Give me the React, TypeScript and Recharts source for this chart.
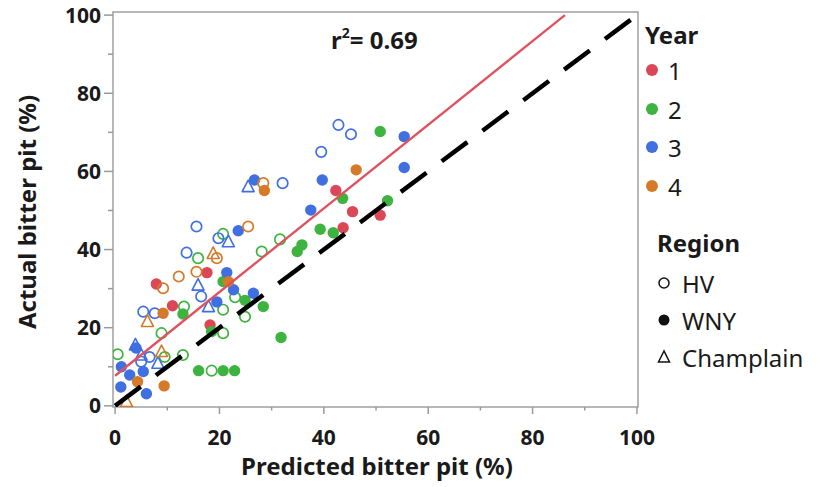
import React from 'react';
import { ScatterChart, Scatter, XAxis, YAxis, ReferenceArea } from 'recharts';

// ---- data (predicted %, actual %) ----
const year1WNY = [[7.9, 31.2], [11, 25.6], [17.6, 34.1], [18.2, 20.7], [42.3, 55.1], [43.7, 45.6], [45.5, 49.7], [50.8, 48.8]];

const year2HV = [[0.5, 13.2], [8.9, 18.6], [9.5, 12.5], [13, 13], [13.2, 25.4], [15.9, 37.8], [20.7, 44], [20.7, 24.6], [23, 27.8], [24.9, 22.8], [20.7, 18.6], [18.5, 9], [28.1, 39.5], [31.6, 42.6]];
const year2WNY = [[13, 23.5], [16, 9], [18.5, 19], [20.7, 31.8], [20.7, 9], [22.9, 9], [24.9, 27], [28.4, 25.4], [31.8, 17.5], [34.9, 39.5], [35.8, 41.2], [39.3, 45.2], [41.8, 44.3], [43.6, 53.1], [50.8, 70.2], [52.2, 52.5]];

const year3HV = [[15.6, 45.9], [13.7, 39.2], [19.8, 42.9], [16.5, 28], [5.4, 24.1], [7.6, 23.7], [6.6, 12.5], [5, 11.3], [32.1, 57], [39.5, 65], [42.8, 71.9], [45.2, 69.5]];
const year3WNY = [[23.6, 44.8], [21.4, 34.1], [22.7, 29.7], [26.5, 28.8], [19.5, 26.6], [4, 14.8], [1.2, 10], [2.8, 7.9], [5.4, 8.8], [1.1, 4.8], [6, 3.1], [26.7, 57.8], [37.5, 50.1], [39.7, 57.8], [55.4, 68.9], [55.4, 61]];
const year3Champlain = [[21.7, 42], [15.9, 30.9], [17.9, 25.4], [5, 13], [8.2, 10.9], [25.5, 56.1], [3.9, 15.6]];

const year4HV = [[25.5, 45.9], [15.6, 34.3], [12.2, 33.1], [9.2, 30.1], [19.5, 37.8], [28.4, 57]];
const year4WNY = [[9.2, 23.7], [21.7, 31.8], [4.3, 6.2], [9.4, 5.1], [28.6, 55.1], [46.2, 60.4]];
const year4Champlain = [[18.8, 39], [6.2, 21.6], [8.9, 13.9], [2.2, 1.1]];

const regressionLine = [[0, 7.7], [86.2, 100]];
const identityLine = [[0, 0], [100, 100]];

const xTicks = [0, 10, 20, 30, 40, 50, 60, 70, 80, 90, 100];
const yTicks = [0, 10, 20, 30, 40, 50, 60, 70, 80, 90, 100];

const yearLabels = ['1', '2', '3', '4'];
const regionLabels = ['HV', 'WNY', 'Champlain'];

const COLORS = ['#DC4757', '#3DB43F', '#3F6FE0', '#D57A28'];
const FONT = '"Noto Sans", "Open Sans", sans-serif';

const toPts = (arr: number[][]) => arr.map(([x, y]) => ({ x, y }));

const circleShape = (color: string, filled: boolean) => (props: any) => (
  <circle
    cx={props.cx}
    cy={props.cy}
    r={filled ? 5.7 : 5.2}
    fill={filled ? color : 'none'}
    stroke={color}
    strokeWidth={filled ? 0 : 1.7}
  />
);

const triShape = (color: string) => (props: any) => {
  const { cx, cy } = props;
  return (
    <polygon
      points={`${cx},${cy - 6.5} ${cx - 6},${cy + 5} ${cx + 6},${cy + 5}`}
      fill="none"
      stroke={color}
      strokeWidth={1.6}
      strokeLinejoin="round"
    />
  );
};

const noShape = () => <g />;

const XTick = (props: any) => {
  const { x, y, payload } = props;
  const v = payload.value;
  const major = v % 20 === 0;
  return (
    <g>
      <line x1={x} x2={x} y1={y} y2={y + (major ? 7 : 3.5)} stroke="#9a9a9a" strokeWidth={1.5} />
      {major && (
        <text x={x} y={y + 38} textAnchor="middle" fontFamily={FONT} fontWeight={700} fontSize={21} fill="#1a1a1a">
          {v}
        </text>
      )}
    </g>
  );
};

const YTick = (props: any) => {
  const { x, y, payload } = props;
  const v = payload.value;
  const major = v % 20 === 0;
  return (
    <g>
      <line x1={x} x2={x - (major ? 9 : 5)} y1={y} y2={y} stroke="#9a9a9a" strokeWidth={1.5} />
      {major && (
        <text x={x - 12} y={y + 7.5} textAnchor="end" fontFamily={FONT} fontWeight={700} fontSize={21} fill="#1a1a1a">
          {v}
        </text>
      )}
    </g>
  );
};

const txt = (left: number, centerY: number, extra: React.CSSProperties = {}): React.CSSProperties => ({
  position: 'absolute',
  left,
  top: centerY,
  transform: 'translateY(-50%)',
  fontFamily: FONT,
  color: '#1a1a1a',
  whiteSpace: 'nowrap',
  lineHeight: 1,
  ...extra,
});

export default function App() {
  const yearSeries = [
    { wny: year1WNY },
    { hv: year2HV, wny: year2WNY },
    { hv: year3HV, wny: year3WNY, ch: year3Champlain },
    { hv: year4HV, wny: year4WNY, ch: year4Champlain },
  ] as { hv?: number[][]; wny?: number[][]; ch?: number[][] }[];

  return (
    <div style={{ position: 'relative', width: 819, height: 487, margin: '-8px 0 0 -8px' }}>
      <ScatterChart width={819} height={487} margin={{ top: 12, right: 181, bottom: 0, left: 0 }}>
        <XAxis
          type="number"
          dataKey="x"
          domain={[-0.4, 100.2]}
          ticks={xTicks}
          interval={0}
          height={80}
          axisLine={false}
          tickLine={false}
          tickSize={0}
          tickMargin={0}
          tick={<XTick />}
          allowDataOverflow
        />
        <YAxis
          type="number"
          dataKey="y"
          domain={[-0.3, 100.8]}
          ticks={yTicks}
          interval={0}
          width={113}
          axisLine={false}
          tickLine={false}
          tickSize={0}
          tickMargin={0}
          tick={<YTick />}
          allowDataOverflow
        />
        <ReferenceArea x1={-0.4} x2={100.2} y1={-0.3} y2={100.8} fill="none" stroke="#a0a0a0" strokeWidth={1.5} ifOverflow="visible" />
        {yearSeries.map((s, i) => (
          <React.Fragment key={i}>
            {s.hv && <Scatter data={toPts(s.hv)} shape={circleShape(COLORS[i], false)} isAnimationActive={false} />}
            {s.wny && <Scatter data={toPts(s.wny)} shape={circleShape(COLORS[i], true)} isAnimationActive={false} />}
            {s.ch && <Scatter data={toPts(s.ch)} shape={triShape(COLORS[i])} isAnimationActive={false} />}
          </React.Fragment>
        ))}
        <Scatter
          data={toPts(regressionLine)}
          line={{ stroke: '#E0505F', strokeWidth: 2.3 }}
          shape={noShape}
          isAnimationActive={false}
        />
        <Scatter
          data={toPts(identityLine)}
          line={{ stroke: '#000', strokeWidth: 4.5, strokeDasharray: '32 19' }}
          shape={noShape}
          isAnimationActive={false}
        />
      </ScatterChart>

      {/* axis titles */}
      <div
        style={{
          position: 'absolute',
          left: 27,
          top: 212,
          transform: 'translate(-50%, -50%) rotate(-90deg)',
          fontFamily: FONT,
          fontWeight: 700,
          fontSize: 24,
          lineHeight: 1,
          whiteSpace: 'nowrap',
          color: '#1a1a1a',
        }}
      >
        Actual bitter pit (%)
      </div>
      <div
        style={{
          position: 'absolute',
          left: 377,
          top: 466,
          transform: 'translate(-50%, -50%)',
          fontFamily: FONT,
          fontWeight: 700,
          fontSize: 24,
          lineHeight: 1,
          whiteSpace: 'nowrap',
          color: '#1a1a1a',
        }}
      >
        Predicted bitter pit (%)
      </div>

      {/* r squared */}
      <div style={txt(331, 40, { fontWeight: 700, fontSize: 24 })}>
        r<sup style={{ fontSize: 14, verticalAlign: 'top', position: 'relative', top: -2 }}>2</sup>= 0.69
      </div>

      {/* legend */}
      <div style={txt(645, 35, { fontWeight: 700, fontSize: 24 })}>Year</div>
      {yearLabels.map((lab, i) => (
        <React.Fragment key={lab}>
          <div
            style={{
              position: 'absolute',
              left: 646,
              top: 64 + i * 38.5,
              width: 12,
              height: 12,
              borderRadius: 6,
              background: COLORS[i],
            }}
          />
          <div style={txt(668, 71 + i * 38.5, { fontSize: 24 })}>{lab}</div>
        </React.Fragment>
      ))}
      <div style={txt(657, 243, { fontWeight: 700, fontSize: 24 })}>Region</div>
      {regionLabels.map((lab, i) => (
        <React.Fragment key={lab}>
          <svg style={{ position: 'absolute', left: 656, top: 275 + i * 37 }} width={16} height={16}>
            {i === 0 && <circle cx={8} cy={8} r={5} fill="none" stroke="#111" strokeWidth={1.5} />}
            {i === 1 && <circle cx={8} cy={8} r={5.5} fill="#111" />}
            {i === 2 && <polygon points="8,2 2.5,13 13.5,13" fill="none" stroke="#111" strokeWidth={1.5} />}
          </svg>
          <div style={txt(682, 284 + i * 37, { fontSize: 24 })}>{lab}</div>
        </React.Fragment>
      ))}
    </div>
  );
}
